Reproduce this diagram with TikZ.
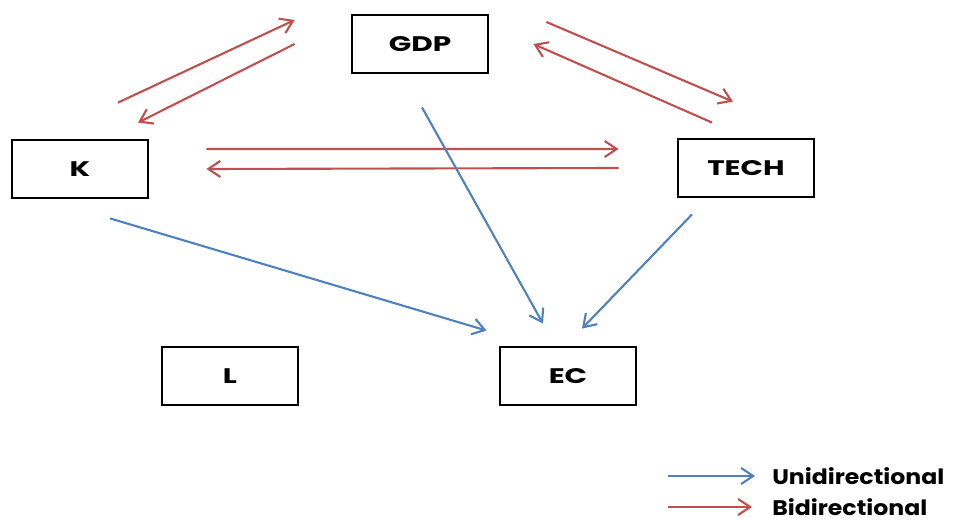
\documentclass[tikz,border=0pt]{standalone}
\usepackage{fontspec}
\setmainfont{Poppins}
\newfontfamily\cajafont{Poppins}[FakeStretch=1.4]
\newfontfamily\leyfont{Poppins}[FakeStretch=1.12]
\usepackage{tikz}
\usetikzlibrary{positioning,arrows.meta,calc}
\definecolor{rojo}{RGB}{192,80,77}
\definecolor{azul}{RGB}{79,129,189}

\begin{document}
\begin{tikzpicture}[
  caja/.style={draw=black, line width=2pt, fill=white,
    minimum width=3.4cm, minimum height=1.45cm, inner sep=0pt,
    font=\cajafont\fontsize{15}{17}\selectfont\bfseries},
  bidir/.style={-{Straight Barb[length=3mm,width=4mm]}, draw=rojo, line width=1.5pt},
  unidir/.style={-{Straight Barb[length=3mm,width=4mm]}, draw=azul, line width=1.5pt},
  leyenda/.style={anchor=west, inner sep=0pt, font=\leyfont\fontsize{15}{17}\selectfont\bfseries}
]
\useasboundingbox (0,0) rectangle (24.15,-13.025);
% Variables
\node[caja] (gdp) at (10.5,-1.1) {GDP};
\node[caja] (k) at (2.0,-4.225) {K};
\node[caja] (tech) at (18.65,-4.2) {TECH};
\node[caja] (l) at (5.75,-9.4) {L};
\node[caja] (ec) at (14.2,-9.4) {EC};
% Relaciones bidireccionales
\draw[bidir] ($(k.north)+(0.95,0.9)$) -- ($(gdp.west)+(-1.4,0.6)$);
\draw[bidir] ($(gdp.west)+(-1.4,0)$) -- ($(k.north)+(1.45,0.4)$);
\draw[bidir] ($(gdp.east)+(1.425,0.55)$) -- ($(tech.north)+(-0.325,0.9)$);
\draw[bidir] ($(tech.north)+(-0.85,0.375)$) -- ($(gdp.east)+(1.1,0)$);
\draw[bidir] ($(k.east)+(1.425,0.5)$) -- ($(tech.west)+(-1.45,0.475)$);
\draw[bidir] ($(tech.west)+(-1.45,0)$) -- ($(k.east)+(1.425,0)$);
% Relaciones unidireccionales
\draw[unidir] ($(gdp.south)+(0.05,-0.825)$) -- ($(ec.north)+(-0.625,0.55)$);
\draw[unidir] ($(k.south)+(0.75,-0.475)$) -- ($(ec.north west)+(-0.3,0.375)$);
\draw[unidir] ($(tech.south)+(-1.35,-0.4)$) -- ($(ec.north)+(0.35,0.425)$);
% Leyenda
\coordinate (u0) at (16.7,-11.9);
\node[leyenda] (ut) at (19.3,-11.9) {Unidirectional};
\draw[unidir] (u0) -- ($(ut.west)+(-0.425,0)$);
\coordinate (b0) at (16.7,-12.675);
\node[leyenda] (bt) at (19.3,-12.675) {Bidirectional};
\draw[bidir] (b0) -- ($(bt.west)+(-0.5,0)$);
\end{tikzpicture}
\end{document}
